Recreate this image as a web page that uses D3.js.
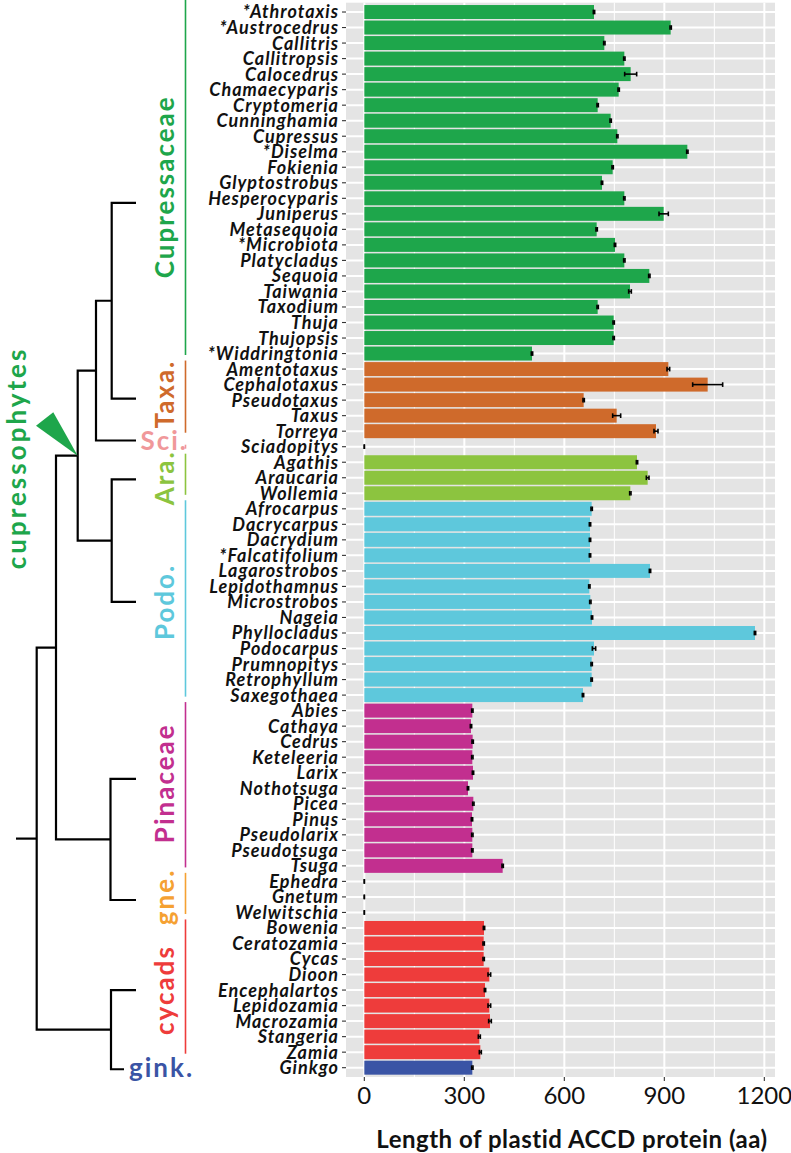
<!DOCTYPE html>
<html><head><meta charset="utf-8">
<script src="https://cdn.jsdelivr.net/npm/d3@7"></script>
<style>
html,body{margin:0;padding:0;background:#fff;}
svg{display:block;}
</style></head>
<body>
<svg id="chart" width="791" height="1153"></svg>
<script>
// ---------------- DATA ----------------
const genera = ["*Athrotaxis","*Austrocedrus","Callitris","Callitropsis","Calocedrus","Chamaecyparis","Cryptomeria","Cunninghamia","Cupressus","*Diselma","Fokienia","Glyptostrobus","Hesperocyparis","Juniperus","Metasequoia","*Microbiota","Platycladus","Sequoia","Taiwania","Taxodium","Thuja","Thujopsis","*Widdringtonia",
"Amentotaxus","Cephalotaxus","Pseudotaxus","Taxus","Torreya",
"Sciadopitys",
"Agathis","Araucaria","Wollemia",
"Afrocarpus","Dacrycarpus","Dacrydium","*Falcatifolium","Lagarostrobos","Lepidothamnus","Microstrobos","Nageia","Phyllocladus","Podocarpus","Prumnopitys","Retrophyllum","Saxegothaea",
"Abies","Cathaya","Cedrus","Keteleeria","Larix","Nothotsuga","Picea","Pinus","Pseudolarix","Pseudotsuga","Tsuga",
"Ephedra","Gnetum","Welwitschia",
"Bowenia","Ceratozamia","Cycas","Dioon","Encephalartos","Lepidozamia","Macrozamia","Stangeria","Zamia",
"Ginkgo"];

const lengths = [689,919,720,780,799,763,700,739,759,969,745,713,780,898,697,752,780,855,797,700,748,748,503,
912,1030,658,757,875,
0,
818,850,798,
682,677,677,677,857,675,678,683,1172,689,682,682,656,
324,320,325,324,326,311,327,323,324,324,415,
0,0,0,
359,358,358,375,362,375,377,345,348,
324];

const errors = [2,2,2,2,18,2,2,2,2,2,2,2,2,14,2,2,2,2,4,2,2,2,2,
4,45,2,12,6,
0,
2,4,2,
2,2,2,2,2,2,2,2,2,5,2,2,2,
2,2,2,2,2,2,2,2,2,2,2,
0,0,0,
2,2,2,4,2,4,4,3,3,
2];

const groupNames  = ["Cupressaceae","Taxa.","Sci.","Ara.","Podo.","Pinaceae","gne.","cycads","gink."];
const groupCounts = [23,5,1,3,13,11,3,9,1];
const groupColors = ["#1ea64b","#cf6a2b","#f0989a","#8cc43f","#5ec8dc","#c22f8f","#f5a132","#ee3c3b","#3a54a5"];
const barColors   = ["#1ea64b","#cf6a2b","#f0989a","#8cc43f","#5ec8dc","#c22f8f","#f5a132","#ee3c3b","#3a54a5"];

const xTicks = [0,300,600,900,1200];
const xMinor = [150,450,750,1050];
const xTitle = "Length of plastid ACCD protein (aa)";
const cladeLabel = "cupressophytes";

// tree topology: tips are groups (index), internal nodes combine two children
const tipRows = [12.3,24.9,27.6,30.1,38.0,49.4,57.2,63.0,68.1];
const treeNodes = {
  n1:["t0","t1"], n2:["n1","t2"], n3:["t3","t4"], n4:["n2","n3"],
  n5:["t5","t6"], n6:["n4","n5"], n7:["t7","t8"], root:["n6","n7"]
};

// ---------------- LAYOUT ----------------
const svg = d3.select("#chart");
const FONT = "Lato, 'Open Sans', sans-serif";
const panel = {left:346, right:775, top:2.7, bottom:1077};

const x = d3.scaleLinear().domain([-55,1232]).range([panel.left, panel.right]);
const y = d3.scalePoint().domain(genera).range([panel.top, panel.bottom]).padding(0.6);
const step = y.step();
const rowY = r => panel.top + (0.6 + r) * step;

const groupOf = [];
groupCounts.forEach((c,i)=>{ for(let k=0;k<c;k++) groupOf.push(i); });
const data = genera.map((g,i)=>({name:g, v:lengths[i], e:errors[i], grp:groupOf[i]}));

// panel
svg.append("rect").attr("x",panel.left).attr("y",panel.top)
  .attr("width",panel.right-panel.left).attr("height",panel.bottom-panel.top)
  .attr("fill","#e4e4e4");
svg.append("g").selectAll("line").data(xMinor).join("line")
  .attr("x1",d=>x(d)).attr("x2",d=>x(d)).attr("y1",panel.top).attr("y2",panel.bottom)
  .attr("stroke","#fff").attr("stroke-width",1);
svg.append("g").selectAll("line").data(xTicks).join("line")
  .attr("x1",d=>x(d)).attr("x2",d=>x(d)).attr("y1",panel.top).attr("y2",panel.bottom)
  .attr("stroke","#fff").attr("stroke-width",2);
svg.append("g").selectAll("line").data(genera).join("line")
  .attr("x1",panel.left).attr("x2",panel.right).attr("y1",d=>y(d)).attr("y2",d=>y(d))
  .attr("stroke","#fff").attr("stroke-width",2);

// bars
svg.append("g").selectAll("rect").data(data.filter(d=>d.v>0)).join("rect")
  .attr("x",x(0)).attr("width",d=>x(d.v)-x(0))
  .attr("y",d=>y(d.name)-0.45*step).attr("height",0.9*step)
  .attr("fill",d=>barColors[d.grp]);

// error bars
const eb = svg.append("g").attr("stroke","#000").attr("stroke-width",1.6);
data.forEach(d=>{
  const cy = y(d.name), h = 0.15*step;
  const x1 = x(d.v-d.e), x2 = x(d.v+d.e);
  eb.append("line").attr("x1",x1).attr("x2",x2).attr("y1",cy).attr("y2",cy);
  eb.append("line").attr("x1",x1).attr("x2",x1).attr("y1",cy-h).attr("y2",cy+h);
  eb.append("line").attr("x1",x2).attr("x2",x2).attr("y1",cy-h).attr("y2",cy+h);
});

// y axis
const yAxis = svg.append("g");
yAxis.selectAll("line").data(genera).join("line")
  .attr("x1",panel.left-4).attr("x2",panel.left).attr("y1",d=>y(d)).attr("y2",d=>y(d))
  .attr("stroke","#333").attr("stroke-width",1.1);
yAxis.selectAll("text").data(genera).join("text")
  .attr("x",panel.left-7).attr("y",d=>y(d)).attr("dy","0.36em")
  .attr("text-anchor","end").attr("font-family",FONT).attr("font-style","italic")
  .attr("font-weight",700).attr("font-size",18).attr("letter-spacing",1).attr("fill","#111")
  .text(d=>d);

// x axis
const xAxis = svg.append("g");
xAxis.selectAll("line").data(xTicks).join("line")
  .attr("x1",d=>x(d)).attr("x2",d=>x(d)).attr("y1",panel.bottom).attr("y2",panel.bottom+4)
  .attr("stroke","#333").attr("stroke-width",1.1);
xAxis.selectAll("text").data(xTicks).join("text")
  .attr("x",d=>x(d)).attr("y",1095).attr("dy","0.36em").attr("text-anchor","middle")
  .attr("font-family",FONT).attr("font-size",24).attr("fill","#111").text(d=>d);
svg.append("text").attr("x",572).attr("y",1148).attr("text-anchor","middle")
  .attr("font-family",FONT).attr("font-weight",700).attr("font-size",24)
  .attr("letter-spacing",0.5).attr("fill","#111")
  .text(xTitle);

// group lines and labels
let start = 0;
const groupInfo = groupCounts.map((c,i)=>{ const g={i, first:start, last:start+c-1}; start+=c; return g; });
const LX = 185.5;
groupInfo.forEach(g=>{
  const col = groupColors[g.i];
  const name = groupNames[g.i];
  if (name === "gink.") return;
  let y1, y2;
  if (g.first === g.last) { y1 = rowY(g.first)-2; y2 = rowY(g.first)+2; }
  else {
    y1 = g.first===0 ? 0 : rowY(g.first) - 0.55*step;
    y2 = rowY(g.last) + 0.1*step;
  }
  svg.append("line").attr("x1",LX).attr("x2",LX).attr("y1",y1).attr("y2",y2)
    .attr("stroke",col).attr("stroke-width",1.6);
});
const GF = 26, GLS = 2;
groupInfo.forEach(g=>{
  const col = groupColors[g.i], name = groupNames[g.i];
  let cy = (rowY(g.first)+rowY(g.last))/2;
  if (name === "Sci.") {
    svg.append("text").attr("x",188).attr("y",cy+3.5).attr("text-anchor","end")
      .attr("font-family",FONT).attr("font-weight",700).attr("font-size",GF)
      .attr("letter-spacing",GLS).attr("fill",col).text(name);
  } else if (name === "gink.") {
    svg.append("text").attr("x",129).attr("y",cy).attr("dy","0.36em").attr("text-anchor","start")
      .attr("font-family",FONT).attr("font-weight",700).attr("font-size",GF)
      .attr("letter-spacing",GLS).attr("fill",col).text(name);
  } else {
    if (name === "Taxa.") cy -= 6;        // leave room for the Sci. label below
    if (name === "Cupressaceae") cy += 4;
    if (name === "Pinaceae") cy -= 5;
    svg.append("text").attr("transform",`translate(165,${cy}) rotate(-90)`)
      .attr("dy","0.36em").attr("text-anchor","middle")
      .attr("font-family",FONT).attr("font-weight",700).attr("font-size",GF)
      .attr("letter-spacing",GLS).attr("fill",col).text(name);
  }
});

// tree
const nodeX = {n1:111.7, n2:96, n3:111.7, n4:77.7, n5:110.5, n6:56, n7:111, root:36.7};
const tipX = 136, ginkTipX = 124, rootStub = 16;
const pos = {};
groupNames.forEach((n,i)=>{ pos["t"+i] = {x: n==="gink." ? ginkTipX : tipX, y: rowY(tipRows[i])}; });
const tree = svg.append("g").attr("stroke","#000").attr("stroke-width",2.2).attr("fill","none");
function place(id){
  if (pos[id]) return pos[id];
  const [a,b] = treeNodes[id].map(place);
  const p = {x:nodeX[id], y:(a.y+b.y)/2};
  pos[id]=p;
  tree.append("path").attr("d",`M${a.x},${a.y}H${p.x}V${b.y}H${b.x}`);
  return p;
}
const rp = place("root");
tree.append("line").attr("x1",rootStub).attr("x2",rp.x).attr("y1",rp.y).attr("y2",rp.y);

// clade marker
const c4 = pos.n4;
svg.append("path").attr("d",`M${c4.x},${c4.y}L${c4.x-41.7},${c4.y-30}L${c4.x-24.4},${c4.y-43.3}Z`)
  .attr("fill","#1ea64b");
svg.append("text").attr("transform",`translate(16.5,458) rotate(-90)`)
  .attr("dy","0.36em").attr("text-anchor","middle")
  .attr("font-family",FONT).attr("font-weight",700).attr("font-size",26)
  .attr("letter-spacing",3).attr("fill","#1ea64b")
  .text(cladeLabel);
</script>
</body></html>
